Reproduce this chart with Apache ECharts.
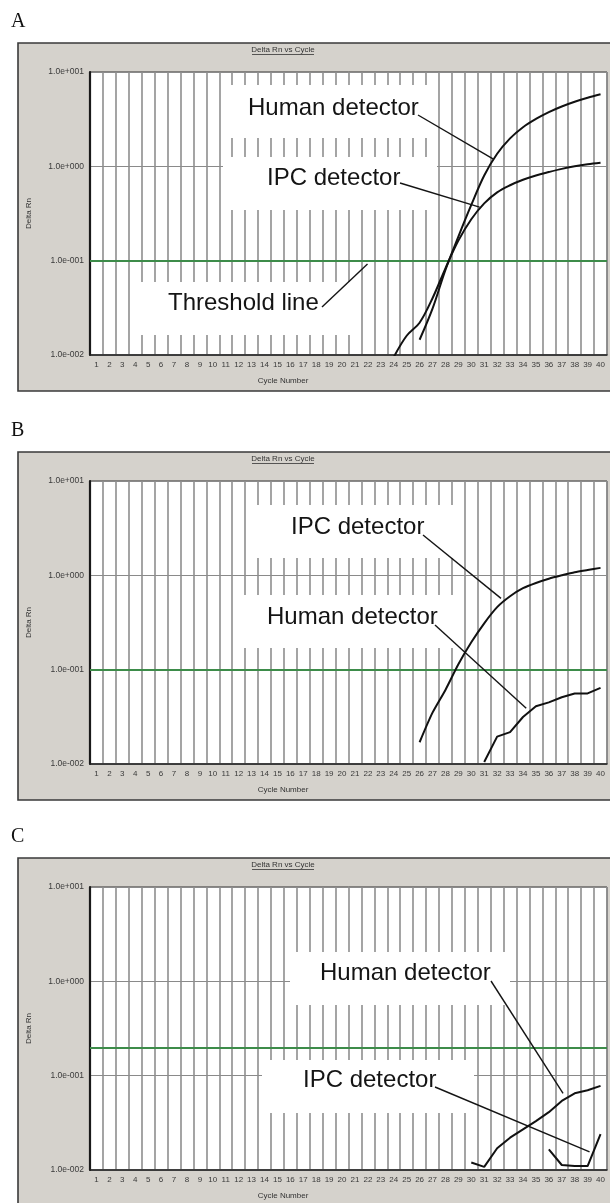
<!DOCTYPE html>
<html>
<head>
<meta charset="utf-8">
<script src="https://cdn.jsdelivr.net/npm/echarts@6/dist/echarts.min.js"></script>
<style>
  html, body { margin: 0; padding: 0; background: #ffffff; }
  #chart { width: 610px; height: 1203px; }
</style>
</head>
<body>
<div id="chart"></div>
<script>
// Cycle tick labels (category axis)
const cycleLabels = ['1','2','3','4','5','6','7','8','9','10','11','12','13','14','15','16','17','18','19','20',
  '21','22','23','24','25','26','27','28','29','30','31','32','33','34','35','36','37','38','39','40'];

// Delta Rn decade tick labels, keyed by exponent
const yTickLabels = { '-2': '1.0e-002', '-1': '1.0e-001', '0': '1.0e+000', '1': '1.0e+001' };

// Panel A
const humanA_cycles = [26, 27, 28, 29, 30, 31, 32, 33, 34, 35, 36, 37, 38, 39, 40];
const humanA_values = [0.0145, 0.031, 0.080, 0.18, 0.39, 0.80, 1.36, 1.98, 2.6, 3.18, 3.76, 4.31, 4.84, 5.33, 5.8];
const ipcA_cycles = [24, 25, 26, 27, 28, 29, 30, 31, 32, 33, 34, 35, 36, 37, 38, 39, 40];
const ipcA_values = [0.0095, 0.016, 0.022, 0.040, 0.083, 0.163, 0.275, 0.405, 0.53, 0.63, 0.72, 0.80, 0.87, 0.94, 1.0, 1.05, 1.09];
const thresholdA = 0.1;

// Panel B
const ipcB_cycles = [26, 27, 28, 29, 30, 31, 32, 33, 34, 35, 36, 37, 38, 39, 40];
const ipcB_values = [0.017, 0.035, 0.061, 0.114, 0.195, 0.31, 0.46, 0.60, 0.73, 0.83, 0.92, 1.0, 1.08, 1.14, 1.2];
const humanB_cycles = [31, 32, 33, 34, 35, 36, 37, 38, 39, 40];
const humanB_values = [0.0105, 0.0195, 0.0218, 0.0315, 0.041, 0.045, 0.051, 0.056, 0.056, 0.064];
const thresholdB = 0.1;

// Panel C
const humanC_cycles = [30, 31, 32, 33, 34, 35, 36, 37, 38, 39, 40];
const humanC_values = [0.012, 0.0108, 0.017, 0.022, 0.027, 0.033, 0.041, 0.054, 0.065, 0.070, 0.078];
const ipcC_cycles = [36, 37, 38, 39, 40];
const ipcC_values = [0.0165, 0.0113, 0.011, 0.011, 0.024];
const thresholdC = 0.2;

const FONT = '"Liberation Sans", Arial, sans-serif';
const SERIF = '"Liberation Serif", "Times New Roman", serif';
const GREEN = '#3d8c4a';

// vertical offset of each panel on the page
const panelTop = [0, 409, 815];
const panelLetters = ['A', 'B', 'C'];

const panels = [
  {
    series: [
      { name: 'Human detector', cycles: humanA_cycles, values: humanA_values, smooth: 0.35 },
      { name: 'IPC detector', cycles: ipcA_cycles, values: ipcA_values, smooth: 0.35 }
    ],
    threshold: thresholdA
  },
  {
    series: [
      { name: 'IPC detector', cycles: ipcB_cycles, values: ipcB_values, smooth: 0.25 },
      { name: 'Human detector', cycles: humanB_cycles, values: humanB_values, smooth: false }
    ],
    threshold: thresholdB
  },
  {
    series: [
      { name: 'Human detector', cycles: humanC_cycles, values: humanC_values, smooth: false },
      { name: 'IPC detector', cycles: ipcC_cycles, values: ipcC_values, smooth: false }
    ],
    threshold: thresholdC
  }
];

// Callout boxes: white panels with text, and a leader line to a point in data space
const callouts = [
  { panel: 0, box: [223, 85, 214, 53], text: 'Human detector', textAt: [248, 108], from: [418, 115], to: [31.68, 1.2] },
  { panel: 0, box: [223, 157, 214, 53], text: 'IPC detector', textAt: [267, 178], from: [400, 183], to: [30.64, 0.37] },
  { panel: 0, box: [133, 282, 227, 53], text: 'Threshold line', textAt: [168, 303], from: [322, 307], to: [21.97, 0.092] },
  { panel: 1, box: [255, 96, 205, 53], text: 'IPC detector', textAt: [291, 118], from: [423, 126], to: [32.3, 0.57] },
  { panel: 1, box: [240, 186, 220, 53], text: 'Human detector', textAt: [267, 208], from: [435, 216], to: [34.25, 0.039] },
  { panel: 2, box: [290, 137, 220, 53], text: 'Human detector', textAt: [320, 158], from: [491, 166], to: [37.1, 0.065] },
  { panel: 2, box: [262, 245, 212, 53], text: 'IPC detector', textAt: [303, 265], from: [435, 272], to: [39.15, 0.0156] }
];

const grids = [], xAxes = [], yAxes = [], seriesList = [];
const firstSeriesOfPanel = [];

panels.forEach((p, i) => {
  const off = panelTop[i];
  grids.push({
    left: 90, top: 72 + off, width: 517, height: 283,
    show: true, backgroundColor: '#ffffff', borderColor: '#333333', borderWidth: 1
  });
  // visible category axis: cycle labels and boundaries
  xAxes.push({
    type: 'category', gridIndex: i, data: cycleLabels, boundaryGap: true,
    axisLine: { show: true, lineStyle: { color: '#222222', width: 1.5 } },
    axisTick: { show: false },
    axisLabel: { interval: 0, fontSize: 8, color: '#3a3a3a', margin: 6, fontFamily: FONT },
    splitLine: { show: true, interval: 0, lineStyle: { color: '#8e8e8e', width: 1.6 } }
  });
  // hidden value axis carrying the data (cycle centres)
  xAxes.push({
    type: 'value', gridIndex: i, min: 0.5, max: 40.5, show: false,
    splitLine: { show: false }
  });
  yAxes.push({
    type: 'log', logBase: 10, gridIndex: i, min: 0.01, max: 10,
    axisLine: { show: true, lineStyle: { color: '#1a1a1a', width: 2.2 } },
    axisTick: { show: false },
    axisLabel: {
      fontSize: 8.5, color: '#3a3a3a', margin: 6, fontFamily: FONT,
      formatter: v => yTickLabels[String(Math.round(Math.log10(v)))] || ''
    },
    splitLine: { show: true, lineStyle: { color: '#8a8a8a', width: 1 } }
  });
  firstSeriesOfPanel.push(seriesList.length);
  p.series.forEach((s, k) => {
    const item = {
      type: 'line', name: s.name,
      xAxisIndex: 2 * i + 1, yAxisIndex: i,
      data: s.cycles.map((c, j) => [c, s.values[j]]),
      showSymbol: false, smooth: s.smooth, clip: true,
      lineStyle: { color: '#111111', width: 2 },
      z: 4
    };
    if (k === 0) {
      item.markLine = {
        silent: true, symbol: ['none', 'none'],
        label: { show: false },
        lineStyle: { color: GREEN, width: 2.2, type: 'solid' },
        data: [{ yAxis: p.threshold }],
        z: 3
      };
    }
    seriesList.push(item);
  });
});

const chart = echarts.init(document.getElementById('chart'), null, { renderer: 'canvas' });
chart.setOption({
  animation: false,
  backgroundColor: '#ffffff',
  grid: grids,
  xAxis: xAxes,
  yAxis: yAxes,
  series: seriesList
});

// Frames, panel letters, titles and callouts
const graphics = [];
panels.forEach((p, i) => {
  const off = panelTop[i];
  graphics.push({
    type: 'rect', z: -10,
    shape: { x: 18, y: 43 + off, width: 620, height: 348 },
    style: { fill: '#d5d2cc', stroke: '#3a3a3a', lineWidth: 1.6 }
  });
  graphics.push({
    type: 'text', z: 1, x: 11, y: 22 + off,
    style: { text: panelLetters[i], font: '20px ' + SERIF, fill: '#111111', textVerticalAlign: 'middle' }
  });
  graphics.push({
    type: 'text', z: 1, x: 283, y: 50 + off,
    style: { text: 'Delta Rn vs Cycle', font: '8px ' + FONT, fill: '#333333', textAlign: 'center', textVerticalAlign: 'middle' }
  });
  graphics.push({
    type: 'line', z: 1,
    shape: { x1: 252, y1: 54.5 + off, x2: 314, y2: 54.5 + off },
    style: { stroke: '#333333', lineWidth: 0.8 }
  });
  graphics.push({
    type: 'text', z: 1, x: 283, y: 381 + off,
    style: { text: 'Cycle Number', font: '8px ' + FONT, fill: '#333333', textAlign: 'center', textVerticalAlign: 'middle' }
  });
  graphics.push({
    type: 'text', z: 1, x: 29, y: 213.5 + off, rotation: Math.PI / 2,
    style: { text: 'Delta Rn', font: '8px ' + FONT, fill: '#333333', textAlign: 'center', textVerticalAlign: 'middle' }
  });
});

callouts.forEach(c => {
  const off = panelTop[c.panel];
  graphics.push({
    type: 'rect', z: 1,
    shape: { x: c.box[0], y: c.box[1] + off, width: c.box[2], height: c.box[3] },
    style: { fill: '#ffffff', stroke: null }
  });
  graphics.push({
    type: 'text', z: 5, x: c.textAt[0], y: c.textAt[1] + off,
    style: { text: c.text, font: '24px ' + FONT, fill: '#141414', textVerticalAlign: 'middle' }
  });
  const end = chart.convertToPixel({ seriesIndex: firstSeriesOfPanel[c.panel] }, c.to);
  graphics.push({
    type: 'line', z: 5,
    shape: { x1: c.from[0], y1: c.from[1] + off, x2: end[0], y2: end[1] },
    style: { stroke: '#141414', lineWidth: 1.4 }
  });
});

chart.setOption({ graphic: graphics });
</script>
</body>
</html>
